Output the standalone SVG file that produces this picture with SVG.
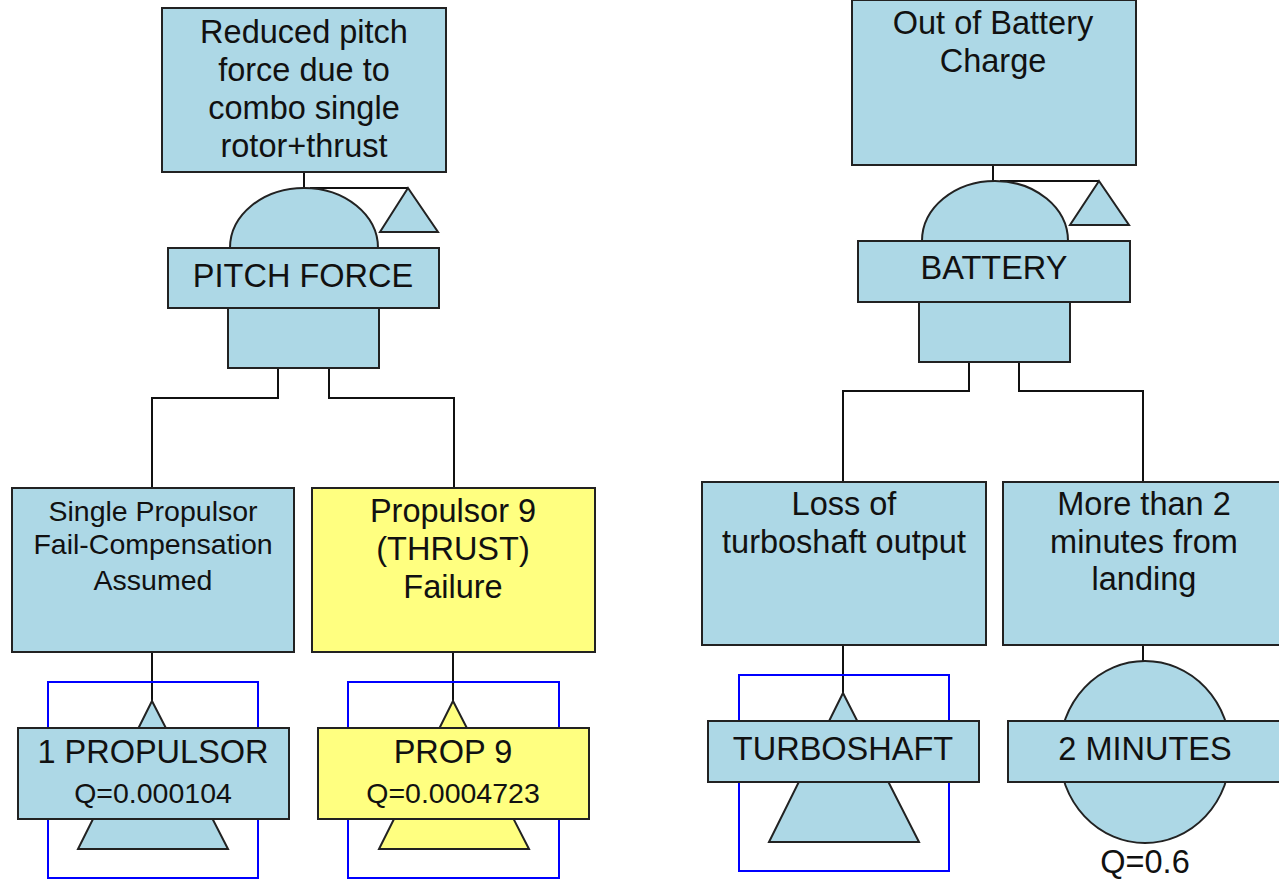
<svg xmlns="http://www.w3.org/2000/svg" width="1279" height="884" viewBox="0 0 1279 884">
<style>
.b{fill:#ADD8E6;stroke:#222;stroke-width:2}
.y{fill:#FFFF80;stroke:#222;stroke-width:2}
.sq{fill:none;stroke:#0000FF;stroke-width:2}
.c{fill:none;stroke:#111;stroke-width:2}
text{font-family:"Liberation Sans",Arial,sans-serif;fill:#111;text-anchor:middle}
.L{font-size:32.5px}
.S{font-size:28.5px}
</style>
<rect width="1279" height="884" fill="#FFFFFF"/>
<g id="connectors">
<path class="c" d="M304,172V188"/>
<path class="c" d="M310,188H408"/>
<path class="c" d="M278,368V398H152V488"/>
<path class="c" d="M329,368V398H454V488"/>
<path class="c" d="M152,652V701"/>
<path class="c" d="M453,652V701"/>
<path class="c" d="M993,165V181"/>
<path class="c" d="M1000,181H1099"/>
<path class="c" d="M969,362V391H843V482"/>
<path class="c" d="M1019,362V391H1143V482"/>
<path class="c" d="M843,645V693"/>
<path class="c" d="M1143,645V661"/>
</g>
<g id="top-left">
<rect class="b" x="162" y="8" width="284" height="164"/>
<text class="L" x="304" y="43">Reduced pitch</text>
<text class="L" x="304" y="81">force due to</text>
<text class="L" x="304" y="119">combo single</text>
<text class="L" x="304" y="157">rotor+thrust</text>
</g>
<g id="gate-pitch-force">
<path class="b" d="M230,248A74,60 0 0 1 378,248Z"/>
<polygon class="b" points="408,188 380,232 438,232"/>
<rect class="b" x="228" y="308" width="151" height="60"/>
<rect class="b" x="168" y="248" width="271" height="60"/>
<text class="L" x="303" y="287">PITCH FORCE</text>
</g>
<g id="single-propulsor">
<rect class="b" x="12" y="488" width="282" height="164"/>
<text class="S" x="153" y="521">Single Propulsor</text>
<text class="S" x="153" y="554">Fail-Compensation</text>
<text class="S" x="153" y="590">Assumed</text>
</g>
<g id="propulsor-9">
<rect class="y" x="312" y="488" width="283" height="164"/>
<text class="L" x="453" y="522">Propulsor 9</text>
<text class="L" x="453" y="560">(THRUST)</text>
<text class="L" x="453" y="598">Failure</text>
</g>
<g id="event-1-propulsor">
<rect class="sq" x="48" y="682" width="210" height="196"/>
<polygon class="b" points="152,701 78,849 228,849"/>
<rect class="b" x="18" y="728" width="271" height="91"/>
<text class="L" x="153" y="763">1 PROPULSOR</text>
<text class="S" x="153" y="803">Q=0.000104</text>
</g>
<g id="event-prop-9">
<rect class="sq" x="348" y="682" width="211" height="196"/>
<polygon class="y" points="453,701 379,849 529,849"/>
<rect class="y" x="318" y="728" width="271" height="91"/>
<text class="L" x="453" y="763">PROP 9</text>
<text class="S" x="453" y="803">Q=0.0004723</text>
</g>
<g id="top-right">
<rect class="b" x="852" y="0" width="284" height="165"/>
<text class="L" x="993" y="34">Out of Battery</text>
<text class="L" x="993" y="72">Charge</text>
</g>
<g id="gate-battery">
<path class="b" d="M922,241A73,60 0 0 1 1068,241Z"/>
<polygon class="b" points="1099,181 1070,225 1129,225"/>
<rect class="b" x="919" y="302" width="151" height="60"/>
<rect class="b" x="858" y="241" width="272" height="61"/>
<text class="L" x="994" y="279">BATTERY</text>
</g>
<g id="loss-turboshaft">
<rect class="b" x="702" y="482" width="284" height="163"/>
<text class="L" x="844" y="515">Loss of</text>
<text class="L" x="844" y="553">turboshaft output</text>
</g>
<g id="more-than-2-minutes">
<rect class="b" x="1003" y="482" width="285" height="163"/>
<text class="L" x="1144" y="515">More than 2</text>
<text class="L" x="1144" y="553">minutes from</text>
<text class="L" x="1144" y="590">landing</text>
</g>
<g id="event-turboshaft">
<rect class="sq" x="739" y="675" width="210" height="196"/>
<polygon class="b" points="843,693 769,842 919,842"/>
<rect class="b" x="708" y="721" width="271" height="61"/>
<text class="L" x="843" y="760">TURBOSHAFT</text>
</g>
<g id="event-2-minutes">
<ellipse class="b" cx="1145" cy="752" rx="85.5" ry="91"/>
<rect class="b" x="1008" y="721" width="280" height="61"/>
<text class="L" x="1145" y="760">2 MINUTES</text>
<text class="L" x="1145" y="873">Q=0.6</text>
</g>
</svg>
